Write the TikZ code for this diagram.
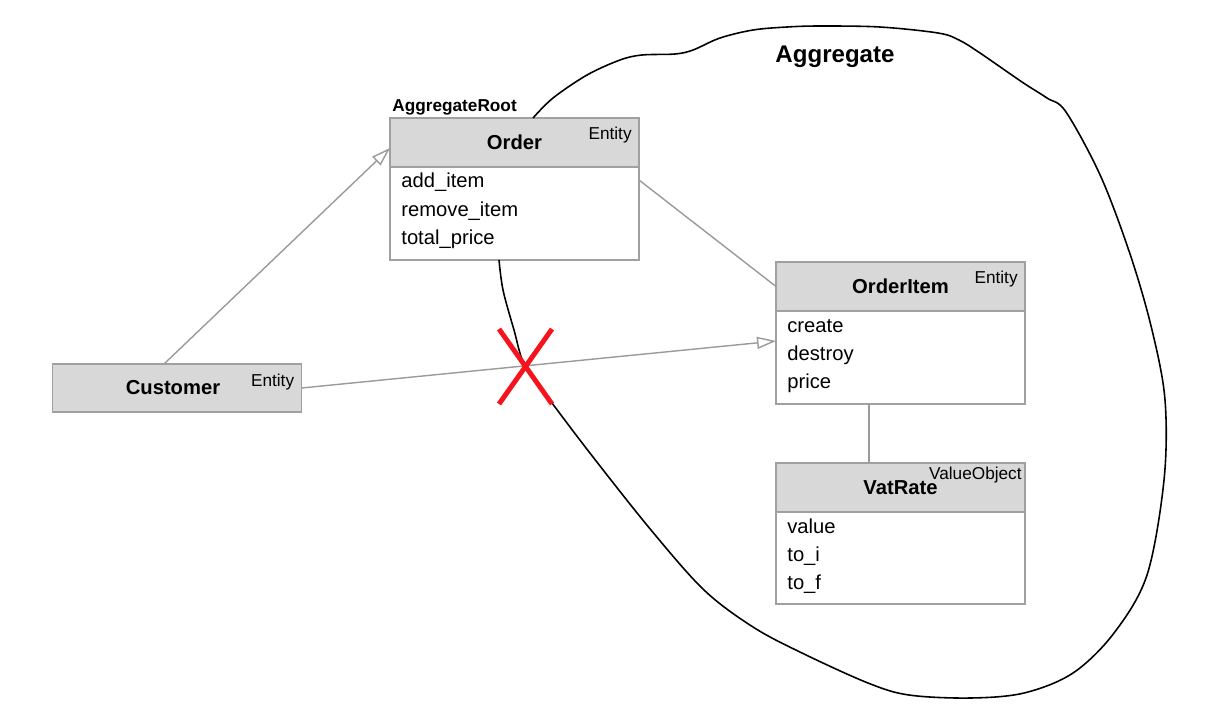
\documentclass[tikz,border=0pt]{standalone}
\usepackage{fontspec}
\setmainfont{Liberation Sans}
\usetikzlibrary{positioning,arrows.meta}
\definecolor{boxGray}{HTML}{D8D8D8}
\definecolor{edgeGray}{HTML}{A0A0A0}
\definecolor{lineGray}{HTML}{9A9A9A}
\definecolor{crossRed}{HTML}{F5141E}

\begin{document}
\begin{tikzpicture}
	[x=0.02cm,y=-0.02cm,
	headDecorate/.style={shape=rectangle,draw=edgeGray,fill=boxGray,line width=0.9pt,outer sep=0pt,
		minimum width=4.98cm,minimum height=0.98cm,font=\fontsize{11.5}{14}\selectfont\bfseries},
	bodyDecorate/.style={shape=rectangle,draw=edgeGray,fill=white,line width=0.9pt,outer sep=0pt,minimum width=4.98cm},
	kindDecorate/.style={anchor=north east,inner sep=0pt,font=\fontsize{9.8}{12}\selectfont},
	itemDecorate/.style={anchor=base west,inner sep=0pt,font=\fontsize{11.5}{14}\selectfont},
	lineDecorate/.style={-,draw=lineGray,line width=0.8pt},
	arrowDecorate/.style={-{Triangle[open,length=0.38cm,width=0.24cm]},draw=lineGray,line width=0.8pt},
	boundDecorate/.style={-,line width=0.9pt},
	crossDecorate/.style={-,draw=crossRed,line width=2.8pt}]
	\useasboundingbox (0,0) rectangle (1229,727);
	%% classes
	\foreach \boxname/\x/\y/\kind/\kx/\ky/\bodyh in {
		Order/514.5/142.5/Entity/-0.14/-0.18/1.86,
		OrderItem/900.5/286.5/Entity/-0.14/-0.18/1.86,
		VatRate/900.5/487.5/ValueObject/-0.06/-0.07/1.84}
	{
		\node (\boxname) at (\x,\y) [headDecorate] {\boxname};
		\node (\boxname Body) [bodyDecorate,below=0pt of \boxname,minimum height=\bodyh cm] {};
		\node [kindDecorate,xshift=\kx cm,yshift=\ky cm] at (\boxname.north east) {\kind};
	}
	\node (Customer) at (177,388) [headDecorate,minimum height=0.96cm] {\hspace{-0.16cm}Customer};
	\node [kindDecorate,xshift=-0.14cm,yshift=-0.19cm] at (Customer.north east) {Entity};
	%% methods
	\foreach \boxname/\items in {
		Order/{add\_item,remove\_item,total\_price},
		OrderItem/{create,destroy,price},
		VatRate/{value,to\_i,to\_f}}
	{
		\foreach \txt [count=\i from 0] in \items
			\node [itemDecorate] at ([shift={(11,{21+28*\i})}]\boxname Body.north west) {\txt};
	}
	%% labels
	\node (RootLabel) [anchor=base west,inner sep=0pt,font=\fontsize{9.8}{12}\selectfont\bfseries]
		at ([shift={(2,-7)}]Order.north west) {AggregateRoot};
	\node (AggLabel) at (835,57) [font=\fontsize{13.7}{16}\selectfont\bfseries] {Aggregate};
	%% edges
	\draw[arrowDecorate] ([xshift=-0.26cm]Customer.north) -- ([yshift=-0.11cm]Order.west);
	\draw[arrowDecorate] (Customer.east) -- ([yshift=0.33cm]OrderItemBody.west);
	\draw[lineDecorate] ([yshift=-0.26cm]OrderBody.north east) -- (OrderItem.west);
	\draw[lineDecorate] ([xshift=-0.63cm]OrderItemBody.south) -- ([xshift=-0.63cm]VatRate.north);
	%% aggregate boundary
	\coordinate (BoundStart) at ([xshift=0.37cm]Order.north);
	\coordinate (BoundEnd) at ([xshift=-0.31cm]OrderBody.south);
	\draw[boundDecorate] plot[smooth,tension=0.55] coordinates {
		(BoundStart) (553,98) (587,75) (620,60) (642,55) (675,54) (693,50) (720,38) (753,30)
		(787,27) (820,26) (880,27) (938,33) (959,40) (980,53) (1022,82) (1047,98) (1066,112)
		(1101,177) (1131,257) (1152,330) (1165,400) (1164,480) (1147,575) (1114,633) (1073,673)
		(1024,693) (970,698) (909,695) (868,683) (802,653) (753,627) (704,590) (651,530)
		(593,457) (552,403) (525,366) (514,330) (503,290) (BoundEnd)};
	%% forbidden reference
	\coordinate (Cross) at (525,366);
	\draw[crossDecorate] ([shift={(-26,-37)}]Cross) -- ([shift={(27,38)}]Cross);
	\draw[crossDecorate] ([shift={(27,-37)}]Cross) -- ([shift={(-26,38)}]Cross);
\end{tikzpicture}
\end{document}
